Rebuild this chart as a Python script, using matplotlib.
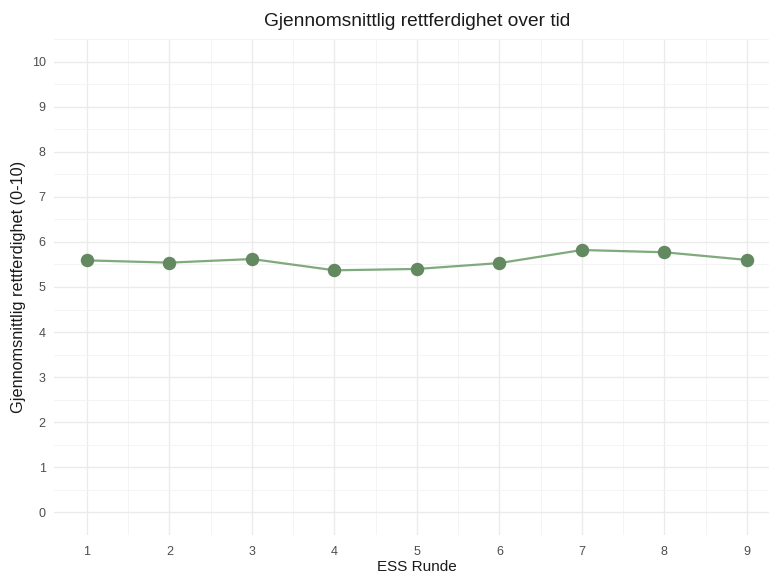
import matplotlib.pyplot as plt
from matplotlib.ticker import MultipleLocator

# --- DATA ---
runder = [1, 2, 3, 4, 5, 6, 7, 8, 9]
rettferdighet = [5.59, 5.54, 5.62, 5.37, 5.40, 5.53, 5.82, 5.77, 5.60]

plt.rcParams['font.family'] = ['Liberation Sans', 'DejaVu Sans']

fig = plt.figure(figsize=(7.69, 5.73), dpi=100)
ax = fig.add_axes([0.0702, 0.0663, 0.944, 0.8657])

# ggplot theme_minimal look
ax.set_facecolor("white")
for side in ax.spines.values():
    side.set_visible(False)
ax.xaxis.set_major_locator(MultipleLocator(1))
ax.xaxis.set_minor_locator(MultipleLocator(0.5))
ax.yaxis.set_major_locator(MultipleLocator(1))
ax.yaxis.set_minor_locator(MultipleLocator(0.5))
ax.grid(which="major", color="#EBEBEB", linewidth=1.0)
ax.grid(which="minor", color="#F3F3F3", linewidth=0.6)
ax.set_axisbelow(True)
ax.tick_params(which="both", length=0, labelsize=9, labelcolor="#4D4D4D")
ax.tick_params(axis="y", pad=6)
ax.tick_params(axis="x", pad=8)

ax.plot(runder, rettferdighet, color="#7FAA7C", linewidth=1.6, zorder=2)
ax.scatter(runder, rettferdighet, s=75, color="#62895F", zorder=3)

ax.set_xlim(0.6, 9.4)
ax.set_ylim(-0.5, 10.5)
ax.set_xticks(runder)
ax.set_yticks(range(0, 11))

ax.set_title("Gjennomsnittlig rettferdighet over tid", fontsize=13.8, color="#1A1A1A", pad=9, x=0.5)
ax.set_xlabel("ESS Runde", fontsize=11, color="#1A1A1A", labelpad=1)
ax.set_ylabel("Gjennomsnittlig rettferdighet (0-10)", fontsize=11.7, color="#1A1A1A", labelpad=4)

fig.savefig("out.png", dpi=100)
